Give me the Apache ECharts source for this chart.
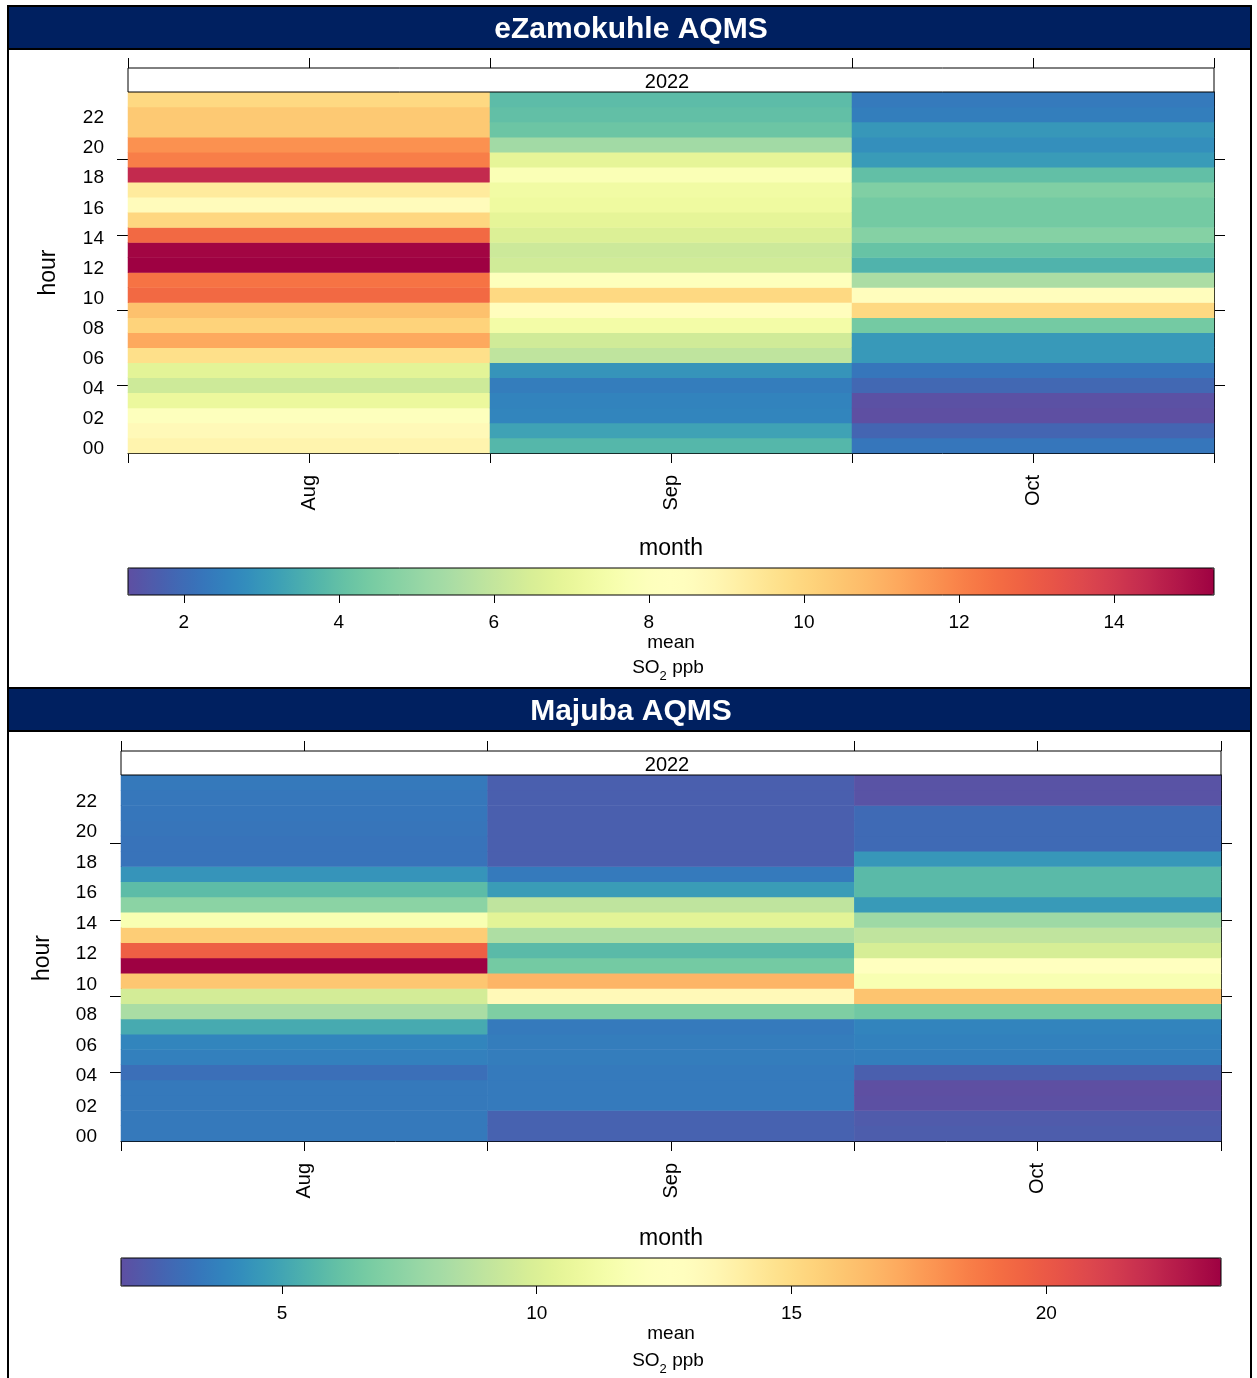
<!DOCTYPE html>
<html>
<head>
<meta charset="utf-8">
<script src="https://cdn.jsdelivr.net/npm/echarts@6/dist/echarts.min.js"></script>
<style>html,body{margin:0;padding:0;background:#fff}#chart{width:1257px;height:1378px}</style>
</head>
<body>
<div id="chart"></div>
<script>
// ---------- data ----------
const months = ['Aug', 'Sep', 'Oct'];
const hours = ['00','01','02','03','04','05','06','07','08','09','10','11','12','13','14','15','16','17','18','19','20','21','22','23'];
const year = '2022';
const stationNames = ['eZamokuhle AQMS', 'Majuba AQMS'];

// mean SO2 ppb by hour (00..23)
const ezAug = [8.96, 8.7, 8.06, 7.1, 6.24, 6.8, 9.7, 11.2, 10.1, 10.6, 12.6, 12.35, 15.29, 15.2, 12.6, 9.97, 8.6, 9.3, 14.4, 12.1, 11.7, 10.4, 10.4, 9.9];
const ezSep = [3.77, 3.26, 2.6, 2.57, 2.43, 2.95, 5.9, 6.3, 7.4, 8.5, 9.9, 8.0, 6.3, 6.2, 6.6, 6.9, 7.2, 7.3, 7.8, 6.9, 5.3, 4.2, 4.0, 3.9];
const ezOct = [2.26, 1.84, 1.28, 1.35, 1.9, 2.26, 3.05, 3.05, 4.36, 9.9, 8.5, 5.48, 3.67, 4.1, 4.7, 4.36, 4.36, 4.6, 4.0, 3.1, 2.85, 3.0, 2.45, 2.35];

const mjAug = [3.45, 3.45, 3.45, 3.45, 3.1, 3.7, 3.9, 5.2, 8.3, 9.7, 16.0, 23.43, 19.7, 15.7, 11.7, 7.3, 5.9, 4.4, 3.25, 3.25, 3.3, 3.35, 3.4, 3.45];
const mjSep = [2.6, 2.6, 3.5, 3.5, 3.5, 3.6, 3.6, 3.5, 6.9, 13.3, 16.7, 6.6, 5.8, 8.4, 10.35, 8.97, 4.7, 3.5, 2.5, 2.5, 2.5, 2.5, 2.5, 2.5];
const mjOct = [2.4, 2.3, 1.9, 1.84, 2.5, 3.65, 3.75, 3.85, 6.5, 16.1, 11.7, 12.6, 9.8, 9.0, 7.9, 4.6, 5.8, 5.8, 4.5, 2.9, 2.9, 2.9, 2.0, 2.0];

const ezTicks = [2, 4, 6, 8, 10, 12, 14];
const mjTicks = [5, 10, 15, 20];

// RColorBrewer Spectral (reversed) – ramp interpolated by spline as in openair
const spectral = ['#5E4FA2','#3288BD','#66C2A5','#ABDDA4','#E6F598','#FFFFBF','#FEE08B','#FDAE61','#F46D43','#D53E4F','#9E0142'];

function splineRamp(hexes, n) {
  const rgb = hexes.map(h => [1, 3, 5].map(k => parseInt(h.substr(k, 2), 16)));
  const N = rgb.length;
  const chans = [0, 1, 2].map(c => {
    const y = rgb.map(v => v[c]);
    const M = new Array(N).fill(0);
    const a = [], b = [], cc = [], d = [];
    for (let i = 1; i < N - 1; i++) { a.push(1); b.push(4); cc.push(1); d.push(6 * (y[i - 1] - 2 * y[i] + y[i + 1])); }
    const m = d.length;
    for (let i = 1; i < m; i++) { const w = a[i] / b[i - 1]; b[i] -= w * cc[i - 1]; d[i] -= w * d[i - 1]; }
    const sol = new Array(m);
    sol[m - 1] = d[m - 1] / b[m - 1];
    for (let i = m - 2; i >= 0; i--) sol[i] = (d[i] - cc[i] * sol[i + 1]) / b[i];
    for (let i = 0; i < m; i++) M[i + 1] = sol[i];
    return {y, M};
  });
  const out = [];
  for (let k = 0; k < n; k++) {
    const x = k / (n - 1) * (N - 1);
    const i = Math.min(Math.floor(x), N - 2);
    const t = x - i;
    const col = chans.map(({y, M}) => {
      const v = (1 - t) * y[i] + t * y[i + 1] - t * (1 - t) / 6 * ((2 - t) * M[i] + (1 + t) * M[i + 1]);
      return Math.max(0, Math.min(255, Math.round(v)));
    });
    out.push('#' + col.map(v => v.toString(16).padStart(2, '0')).join(''));
  }
  return out;
}
const ramp = splineRamp(spectral, 101);

// ---------- helpers ----------
function cells(cols) {
  const out = [];
  cols.forEach((col, m) => col.forEach((v, h) => out.push([m, h, v])));
  return out;
}
const ezData = cells([ezAug, ezSep, ezOct]);
const mjData = cells([mjAug, mjSep, mjOct]);
function range(cols) {
  const all = [].concat(...cols);
  return [Math.min(...all), Math.max(...all)];
}
const ezRange = range([ezAug, ezSep, ezOct]);
const mjRange = range([mjAug, mjSep, mjOct]);

const FONT = 'Liberation Sans, Arial, sans-serif';
const NAVY = '#002060';

const P = [
  { grid: {left: 128, top: 92, width: 1086, height: 361}, strip: 24, bar: {top: 568, h: 27}, titleY: 6, monthGap: 84, hourGap: 68, meanGap: 36, so2Y: 668, ticks: ezTicks, range: ezRange, data: ezData },
  { grid: {left: 121, top: 775, width: 1100, height: 366}, strip: 24, bar: {top: 1258, h: 28}, titleY: 688, monthGap: 86, hourGap: 67, meanGap: 37, so2Y: 1361, ticks: mjTicks, range: mjRange, data: mjData }
];

const grids = [], xAxes = [], yAxes = [], series = [], visualMaps = [], graphics = [], titles = [];

P.forEach((p, i) => {
  const gMain = grids.length;
  grids.push(Object.assign({}, p.grid, {containLabel: false}));
  const gBar = grids.length;
  grids.push({left: p.grid.left, top: p.bar.top, width: p.grid.width, height: p.bar.h, show: true, borderColor: '#000', borderWidth: 1, backgroundColor: 'transparent', z: 10});

  const xMain = xAxes.length;
  xAxes.push({
    type: 'category', data: months, gridIndex: gMain, position: 'bottom',
    axisLine: {show: true, lineStyle: {color: '#000', width: 1}},
    axisTick: {show: true, interval: 0, length: 10, lineStyle: {color: '#000'}},
    axisLabel: {rotate: 90, fontSize: 20, color: '#000', fontFamily: FONT, margin: 22},
    splitLine: {show: false},
    name: 'month', nameLocation: 'middle', nameGap: p.monthGap,
    nameTextStyle: {fontSize: 23, color: '#000', fontFamily: FONT}
  });
  xAxes.push({
    type: 'category', data: months, gridIndex: gMain, position: 'bottom',
    axisLine: {show: false}, axisLabel: {show: false}, splitLine: {show: false},
    axisTick: {show: true, alignWithLabel: true, interval: 0, length: 10, lineStyle: {color: '#000'}}
  });
  xAxes.push({
    type: 'value', min: 0, max: 6, interval: 1, gridIndex: gMain, position: 'top', offset: p.strip,
    axisLine: {show: false}, axisLabel: {show: false}, splitLine: {show: false},
    axisTick: {show: true, length: 10, customValues: [0, 1, 2, 4, 5, 6], lineStyle: {color: '#000'}}
  });
  xAxes.push({
    type: 'value', min: p.range[0], max: p.range[1], gridIndex: gBar, position: 'bottom',
    axisLine: {show: false}, splitLine: {show: false},
    axisTick: {show: true, length: 8, customValues: p.ticks, lineStyle: {color: '#000'}},
    axisLabel: {show: true, customValues: p.ticks, fontSize: 19, color: '#000', fontFamily: FONT, margin: 18},
    name: 'mean', nameLocation: 'middle', nameGap: p.meanGap,
    nameTextStyle: {fontSize: 19, color: '#000', fontFamily: FONT}
  });

  const yMain = yAxes.length;
  yAxes.push({
    type: 'category', data: hours, gridIndex: gMain, position: 'left',
    axisLine: {show: true, lineStyle: {color: '#000', width: 1}},
    axisTick: {show: true, alignWithLabel: true, length: 11, interval: (idx) => idx % 5 === 4, lineStyle: {color: '#000'}},
    axisLabel: {interval: 1, fontSize: 19, color: '#000', fontFamily: FONT, margin: 24, verticalAlign: 'top', lineHeight: 7},
    splitLine: {show: false},
    name: 'hour', nameLocation: 'middle', nameGap: p.hourGap, nameRotate: 90,
    nameTextStyle: {fontSize: 23, color: '#000', fontFamily: FONT}
  });
  yAxes.push({
    type: 'category', data: hours, gridIndex: gMain, position: 'right',
    axisLine: {show: true, lineStyle: {color: '#000', width: 1}},
    axisTick: {show: true, alignWithLabel: true, length: 11, interval: (idx) => idx % 5 === 4, lineStyle: {color: '#000'}},
    axisLabel: {show: false}, splitLine: {show: false}
  });
  yAxes.push({type: 'value', gridIndex: gBar, show: false, min: 0, max: 1});

  const sIdx = series.length;
  series.push({
    type: 'heatmap', xAxisIndex: xMain, yAxisIndex: yMain, data: p.data,
    itemStyle: {borderWidth: 0}, emphasis: {disabled: true}
  });

  visualMaps.push({
    type: 'continuous', seriesIndex: sIdx, dimension: 2,
    min: p.range[0], max: p.range[1], orient: 'horizontal',
    left: p.grid.left, top: p.bar.top, itemWidth: p.bar.h, itemHeight: p.grid.width,
    padding: 0, calculable: false, hoverLink: false, text: null,
    inRange: {color: ramp}, z: 4
  });

  graphics.push({
    type: 'rect', shape: {x: 8, y: p.titleY, width: 1243, height: 43},
    style: {fill: NAVY, stroke: '#000', lineWidth: 2}, z: 50
  });
  titles.push({
    text: stationNames[i], left: 631, top: p.titleY + 9, textAlign: 'center', padding: 0,
    textStyle: {color: '#fff', fontSize: 30, fontWeight: 'bold', fontFamily: FONT}, z: 60
  });
  const stripY = p.grid.top - p.strip;
  graphics.push({
    type: 'rect', shape: {x: p.grid.left, y: stripY, width: p.grid.width, height: p.strip},
    style: {fill: '#fff', stroke: '#000', lineWidth: 1}, z: 40
  });
  graphics.push({
    type: 'text', x: p.grid.left + p.grid.width / 2 - 4, y: stripY + p.strip / 2 + 2,
    style: {text: year, fill: '#000', font: '20px ' + FONT, textAlign: 'center', textVerticalAlign: 'middle'}, z: 41
  });
  graphics.push({
    type: 'text', x: 668, y: p.so2Y,
    style: {
      text: 'SO{sub|2} ppb', fill: '#000', font: '19px ' + FONT, textAlign: 'center', textVerticalAlign: 'middle',
      rich: {sub: {fontSize: 13, fontFamily: FONT, fill: '#000', verticalAlign: 'bottom', lineHeight: 12, padding: [0, 0, -5, 0]}}
    }, z: 41
  });
});

graphics.push({type: 'line', shape: {x1: 8, y1: 6, x2: 8, y2: 1378}, style: {stroke: '#000', lineWidth: 2}, z: 55});
graphics.push({type: 'line', shape: {x1: 1251, y1: 6, x2: 1251, y2: 1378}, style: {stroke: '#000', lineWidth: 2}, z: 55});

const chart = echarts.init(document.getElementById('chart'), null, {renderer: 'canvas'});
chart.setOption({
  backgroundColor: '#fff',
  animation: false,
  title: titles,
  grid: grids,
  xAxis: xAxes,
  yAxis: yAxes,
  visualMap: visualMaps,
  series: series,
  graphic: graphics
});
</script>
</body>
</html>
